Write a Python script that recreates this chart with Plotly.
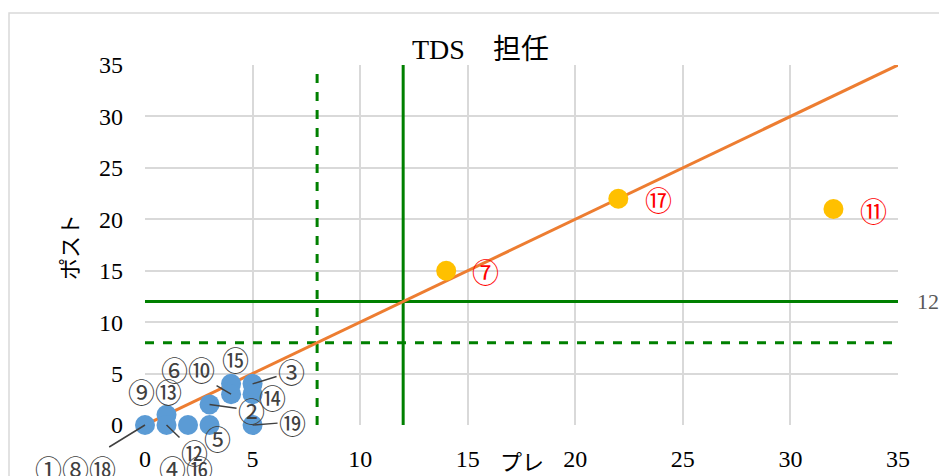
import plotly.graph_objects as go

# ---- data ----
blue_x = [0, 1, 1, 2, 3, 3, 4, 4, 5, 5, 5]
blue_y = [0, 1, 0, 0, 2, 0, 4, 3, 4, 3, 0]
blue_labels = ["①⑧⑱", "⑨⑬", "⑫", "④⑯", "②", "⑤", "⑮", "⑥⑩", "③", "⑭", "⑲"]
yellow_x = [14, 22, 32]
yellow_y = [15, 22, 21]
yellow_labels = ["⑦", "⑰", "⑪"]
diag_x = [0, 35]
diag_y = [0, 35]
solid_cut = 12
dashed_cut = 8
axis_min = 0
axis_max = 35
tick_vals = [0, 5, 10, 15, 20, 25, 30, 35]
tick_text = ["0", "5", "10", "15", "20", "25", "30", "35"]

# ---- label placement (pixel offsets, leader line?) ----
blue_offsets = [(-70, 43, True), (-12, -23, False), (28, 27, True), (-2, 43, False),
                (42, 6, True), (8, 13, False), (4, -24, False), (-43, -25, True),
                (39, -12, True), (20, 3, False), (40, -3, True)]
yellow_offsets = [(39, 1), (40, 1), (40, 1)]

SERIF = "Liberation Serif, Noto Sans CJK JP"
CJK = "Noto Sans CJK JP"
LAB = "Noto Sans CJK JP"
GREEN = "#008000"
LAB_SIZE = 27

fig = go.Figure()
# thresholds
fig.add_trace(go.Scatter(x=[dashed_cut, dashed_cut], y=[axis_min, axis_max], mode="lines",
                         line=dict(color=GREEN, width=3, dash="dash"), hoverinfo="skip"))
fig.add_trace(go.Scatter(x=[axis_min, axis_max], y=[dashed_cut, dashed_cut], mode="lines",
                         line=dict(color=GREEN, width=3, dash="dash"), hoverinfo="skip"))
fig.add_trace(go.Scatter(x=[solid_cut, solid_cut], y=[axis_min, axis_max], mode="lines",
                         line=dict(color=GREEN, width=3), hoverinfo="skip"))
fig.add_trace(go.Scatter(x=[axis_min, axis_max], y=[solid_cut, solid_cut], mode="lines",
                         line=dict(color=GREEN, width=3), hoverinfo="skip"))
# diagonal
fig.add_trace(go.Scatter(x=diag_x, y=diag_y, mode="lines",
                         line=dict(color="#ED7D31", width=3), hoverinfo="skip"))
# points
fig.add_trace(go.Scatter(x=blue_x, y=blue_y, mode="markers", cliponaxis=False,
                         marker=dict(color="#5B9BD5", size=20)))
fig.add_trace(go.Scatter(x=yellow_x, y=yellow_y, mode="markers", cliponaxis=False,
                         marker=dict(color="#FFC000", size=20)))

ann = []
for x, y, t, (dx, dy, lead) in zip(blue_x, blue_y, blue_labels, blue_offsets):
    if lead:
        ann.append(dict(x=x, y=y, xref="x", yref="y", text=t, showarrow=True,
                        ax=dx, ay=dy, arrowhead=0, arrowwidth=1.5, arrowcolor="#404040",
                        standoff=0, font=dict(family=LAB, size=LAB_SIZE, color="#404040")))
    else:
        ann.append(dict(x=x, y=y, xref="x", yref="y", text=t, showarrow=False,
                        xshift=dx, yshift=-dy, font=dict(family=LAB, size=LAB_SIZE, color="#404040")))
for x, y, t, (dx, dy) in zip(yellow_x, yellow_y, yellow_labels, yellow_offsets):
    ann.append(dict(x=x, y=y, xref="x", yref="y", text=t, showarrow=False,
                    xshift=dx, yshift=-dy, font=dict(family=LAB, size=LAB_SIZE, color="#FF0000")))
# line label
ann.append(dict(x=axis_max, y=solid_cut, xref="x", yref="y", text=str(solid_cut), showarrow=False,
                xanchor="left", xshift=17, font=dict(family=SERIF, size=22, color="#595959")))
# title and axis titles
ann.append(dict(x=0.446, y=1.0, xref="paper", yref="paper", text="TDS　担任", showarrow=False,
                xanchor="center", yanchor="bottom", yshift=-2,
                font=dict(family=SERIF, size=28, color="#000000")))
ann.append(dict(x=-0.102, y=0.495, xref="paper", yref="paper", text="ポスト", showarrow=False,
                xanchor="center", yanchor="middle",
                textangle=-90, font=dict(family=CJK, size=22, color="#000000")))
ann.append(dict(x=0.5, y=-0.097, xref="paper", yref="paper", text="プレ", showarrow=False,
                xanchor="center", yanchor="middle",
                font=dict(family=CJK, size=22, color="#000000")))

fig.update_layout(
    width=939, height=476,
    margin=dict(l=145, r=41, t=65, b=51),
    plot_bgcolor="white", paper_bgcolor="white",
    showlegend=False,
    annotations=ann,
    shapes=[dict(type="rect", xref="paper", yref="paper", x0=-0.1806, x1=1.2, y0=-0.3, y1=1.1444,
                 line=dict(color="#D9D9D9", width=1.5), layer="below")],
)
fig.update_xaxes(range=[axis_min, axis_max], tickvals=tick_vals, ticktext=tick_text, automargin=False,
                 showgrid=True, gridcolor="#D9D9D9", gridwidth=2, zeroline=False, showline=False,
                 ticks="", ticklabelstandoff=17, tickfont=dict(family=SERIF, size=24, color="#000000"))
fig.update_yaxes(range=[axis_min, axis_max], tickvals=tick_vals, ticktext=tick_text, automargin=False,
                 showgrid=True, gridcolor="#D9D9D9", gridwidth=2, zeroline=False, showline=False,
                 ticks="", ticklabelstandoff=21, tickfont=dict(family=SERIF, size=24, color="#000000"))

fig.write_html("out.html")
